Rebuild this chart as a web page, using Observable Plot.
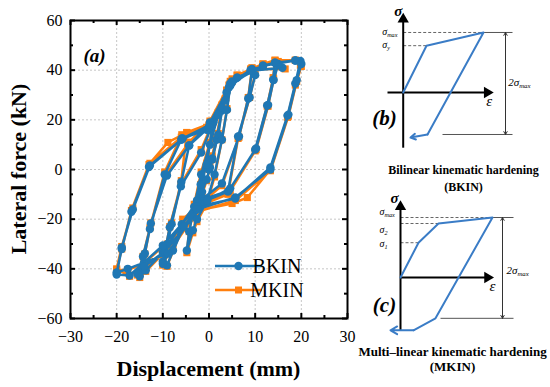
<!DOCTYPE html>
<html>
<head>
<meta charset="utf-8">
<script src="https://cdn.jsdelivr.net/npm/d3@7"></script>
<script src="https://cdn.jsdelivr.net/npm/@observablehq/plot@0.6"></script>
<style>
  html, body { margin: 0; padding: 0; background: #fff; }
  #wrap { position: relative; width: 550px; height: 387px; overflow: hidden; background: #fff; }
  #wrap > svg, #wrap > figure { position: absolute; margin: 0; }
  #wrap svg, #wrap svg text { font-family: "Liberation Serif", "Times New Roman", serif !important; }
</style>
</head>
<body>
<div id="wrap"></div>
<script>
// ---------- data: main hysteresis chart ----------
const xTicks = [-30, -20, -10, 0, 10, 20, 30];
const yTicks = [-60, -40, -20, 0, 20, 40, 60];
const xMinor = [-25, -15, -5, 5, 15, 25];
const yMinor = [-50, -30, -10, 10, 30, 50];
const xGrid = [-20, -10, 0, 10, 20];
const yGrid = [-40, -20, 0, 20, 40];
const xLabel = "Displacement (mm)";
const yLabel = "Lateral force (kN)";
const panelA = "(a)";
const seriesNames = ["BKIN", "MKIN"];
const seriesColors = ["#1f77b4", "#ff7f0e"];

// [displacement (mm), lateral force (kN)]
const bkin = [
[0,0],[0.2,0.8],[0.7,4.4],[1.6,12],[2.8,23.7],[2,14],[0.7,4],[-0.5,-4],[-1.5,-9],[-2.6,-12.5],[-1.8,-6],[-0.5,2],
[0.9,18.9],[2.8,25],[4.6,33.8],[3.9,24],[2.8,12],[1.2,-2],[-0.4,-12.5],[-2.6,-20],[-3.5,-24.5],[-4.8,-32.6],[-4.3,-25],[-3.2,-15],[-1.7,-2],[0.2,10],[2,22],[3.5,27.8],[5,35.5],
[6.1,37],[9.3,39.8],[8.5,28.6],[6.5,13.3],[2.8,-5.6],[-1.3,-11.7],[-5.9,-22],[-7.8,-32.6],[-10,-37],[-8.5,-23.3],[-6.1,-6.8],[-1.7,6.8],[0.9,18.9],[4.6,34.6],[9.3,40.5],[10,38],[8.8,29],[6.3,13.3],[4.1,-8.9],[-1.3,-13],[-5.5,-23],[-9.1,-38.6],[-10,-38],[-9,-30],[-8.1,-22],[-6,-5],[-4.3,9.7],[0,17],[3.8,31],[6.1,37],
[11.7,41.8],[14.3,43],[13.9,36.2],[12.6,25.8],[10,8],[4.3,-8.5],[-2.6,-12.9],[-10,-33.4],[-13.7,-40.6],[-15,-43],[-13.9,-33.8],[-12.6,-21.7],[-9.1,-2.4],[-4.3,9.7],[0.2,18.9],[4.6,33.8],[9.3,39.8],[15.9,41],[15,42.5],[14,36],[12.8,26],[10.2,8.5],[4.6,-7.6],[-0.4,-12.5],[-9.6,-33],[-14,-39],[-15.5,-42],[-14.3,-35],[-12.8,-24],[-9.6,-2],[-5.9,12.5],[-0.5,16],[4.3,33],[9,40],
[14.3,43],[18.7,43.9],[19.8,43.7],[18.7,34.6],[17,21.7],[13.3,0.8],[5.7,-11.7],[-2.6,-15],[-10,-30.6],[-17.2,-42.7],[-20,-42.3],[-18.9,-31.4],[-16.5,-16.1],[-12.8,1.6],[-5.7,12.5],[0.2,18],[5,35],[11.7,41.8],[18.7,43.9],[20,42.5],[19,36],[17.2,22.1],[13.3,0],[5.7,-11.3],[-2.6,-16],[-8.9,-33.8],[-17.6,-40],[-20,-41.5],[-18.9,-32],[-16.8,-17],[-13,1],[-6,12],[0,17]
];
const mkin = [
[0,0],[0.2,1.5],[0.7,5.5],[1.6,13],[2.8,24.5],[2,14.5],[0.7,4],[-0.5,-4.5],[-1.5,-10],[-2.6,-13.5],[-1.8,-6],[-0.5,2.5],
[0.9,19.5],[2.8,26],[4.6,34.5],[3.9,24.5],[2.8,12],[1.2,-3],[-0.4,-13.5],[-2.6,-21],[-3.5,-25.5],[-4.8,-33.5],[-4.3,-25],[-3.2,-14],[-1.7,-1],[0.2,11],[2,23],[3.5,28.5],[5,36.5],
[6.1,38],[9.3,40.5],[8.5,29],[6.5,13],[2.8,-6.5],[-1.3,-13],[-5.7,-20],[-7.8,-31],[-10,-38],[-8.5,-23],[-6.1,-6],[-1.7,8],[0.9,19.5],[4.6,35.5],[9.3,41],[10,38.5],[8.8,29],[6.3,12.5],[4.1,-10],[-1.3,-14],[-5.5,-22],[-9.1,-39],[-10,-38.5],[-9,-30],[-8.1,-21.5],[-6,-4.5],[-4.8,14.9],[0,18],[3.8,32],[6.1,38],
[11.7,42.5],[14.3,44],[13.9,37],[12.6,25.5],[10,7.5],[4.3,-9.5],[-2.6,-14],[-10,-34],[-13.7,-41],[-15,-43.5],[-13.9,-34],[-12.6,-21.5],[-9.1,-1.5],[-4.3,11],[0.2,19.5],[4.6,34.5],[9.3,40.5],[16.5,40.5],[15,43.5],[14,36.5],[12.8,25.5],[10.2,8],[4.6,-8.5],[-0.4,-13.5],[-9.6,-33.5],[-14,-39.5],[-15.5,-42.5],[-14.3,-35],[-12.8,-23.5],[-9.6,-1],[-5.9,14],[-0.5,17],[4.3,34],[9,40.5],
[14.3,44],[18.7,44],[19.8,42],[18.7,34],[17,21],[13.3,0],[8.3,-11.3],[5,-13.7],[-2.6,-16.5],[-10,-31],[-17.2,-43],[-20,-40],[-18.9,-31],[-16.5,-15.5],[-12.8,2.5],[-8.9,10.9],[-4.8,14.9],[0.2,18.5],[5,35.5],[11.7,42.5],[18.7,44],[20,41.5],[19,35.5],[17.2,21.5],[13.3,-0.5],[5.7,-12.5],[-2.6,-17],[-8.9,-34],[-17.6,-40.5],[-20,-40.5],[-18.9,-32],[-16.8,-16.5],[-13,2],[-6,13],[0,17.5]
];

// ---------- data: schematic (b) bilinear ----------
const bCurve = [[0,0],[2.33,0.78],[8.03,1.0],[2.43,-0.7]];
const bArrowEnd = [0.73,-0.75];
// [label, level, strain at level, label y]
const bLevels = [["σ_max", 1.0, 8.03, 1.01], ["σ_y", 0.78, 2.33, 0.8]];
const bTitle = ["Bilinear kinematic hardening", "(BKIN)"];
// ---------- data: schematic (c) multilinear ----------
const cCurve = [[0,0],[1.8,0.58],[3.8,0.9],[9.2,1.0],[3.5,-0.68],[1.3,-0.88]];
const cArrowEnd = [-1.0,-0.88];
const cLevels = [["σ_max", 1.0, 9.2, 1.09], ["σ_2", 0.9, 3.8, 0.8], ["σ_1", 0.58, 1.8, 0.56]];
const cTitle = ["Multi–linear kinematic hardening", "(MKIN)"];

const SERIF = "Liberation Serif, Times New Roman, serif";
const wrap = document.getElementById("wrap");

// ---------- main chart ----------
const W = 550, H = 387, mL = 70, mR = 203, mT = 20, mB = 69;
const iW = W - mL - mR, iH = H - mT - mB;
const gridStyle = {stroke: "#b8b8b8", strokeOpacity: 1, strokeWidth: 0.8, strokeDasharray: "2,2"};
const main = Plot.plot({
  width: W, height: H, marginLeft: mL, marginRight: mR, marginTop: mT, marginBottom: mB,
  style: {fontFamily: SERIF, fontSize: "16px", color: "#000", background: "transparent"},
  x: {domain: [-30, 30]},
  y: {domain: [-60, 60]},
  marks: [
    Plot.gridX(xGrid, gridStyle),
    Plot.gridY(yGrid, gridStyle),
    Plot.axisX({ticks: xTicks, tickSize: 0, tickPadding: 12, label: null, fontSize: 16}),
    Plot.axisY({ticks: yTicks, tickSize: 0, tickPadding: 8, label: null, fontSize: 16}),
    Plot.tickX(xTicks, {x: d => d, insetTop: iH - 5, strokeWidth: 2}),
    Plot.tickX(xTicks, {x: d => d, insetBottom: iH - 5, strokeWidth: 2}),
    Plot.tickX(xMinor, {x: d => d, insetTop: iH - 3, strokeWidth: 2}),
    Plot.tickX(xMinor, {x: d => d, insetBottom: iH - 3, strokeWidth: 2}),
    Plot.tickY(yTicks, {y: d => d, insetRight: iW - 5, strokeWidth: 2}),
    Plot.tickY(yTicks, {y: d => d, insetLeft: iW - 5, strokeWidth: 2}),
    Plot.tickY(yMinor, {y: d => d, insetRight: iW - 3, strokeWidth: 2}),
    Plot.tickY(yMinor, {y: d => d, insetLeft: iW - 3, strokeWidth: 2}),
    Plot.line(mkin, {x: d => d[0], y: d => d[1], stroke: seriesColors[1], strokeWidth: 2.5}),
    Plot.dot(mkin, {x: d => d[0], y: d => d[1], symbol: "square", r: 4, fill: seriesColors[1], stroke: "none"}),
    Plot.line(bkin, {x: d => d[0], y: d => d[1], stroke: seriesColors[0], strokeWidth: 2.5}),
    Plot.dot(bkin, {x: d => d[0], y: d => d[1], r: 4.2, fill: seriesColors[0], stroke: "none"}),
    Plot.frame({stroke: "#000", strokeWidth: 2}),
    Plot.text([panelA], {frameAnchor: "top-left", dx: 13, dy: 28, textAnchor: "start", fontSize: 19, fontWeight: "bold", fontStyle: "italic"})
  ]
});
main.style.left = "0px"; main.style.top = "0px";
wrap.appendChild(main);

{
  const svg = d3.select(main);
  svg.append("text").attr("transform", `translate(26,${mT + iH / 2}) rotate(-90)`)
    .attr("text-anchor", "middle").attr("font-size", 22).attr("font-weight", "bold").attr("fill", "#000").text(yLabel);
  svg.append("text").attr("x", mL + iW / 2).attr("y", 376)
    .attr("text-anchor", "middle").attr("font-size", 22).attr("font-weight", "bold").attr("fill", "#000").text(xLabel);
  const g = svg.append("g").attr("font-size", 20);
  const ys = [266, 290];
  seriesNames.forEach((name, i) => {
    const y = ys[i];
    g.append("line").attr("x1", 215).attr("x2", 262).attr("y1", y).attr("y2", y)
      .attr("stroke", seriesColors[i]).attr("stroke-width", 2.5);
    if (i === 0) g.append("circle").attr("cx", 238.5).attr("cy", y).attr("r", 4.2).attr("fill", seriesColors[i]);
    else g.append("rect").attr("x", 235).attr("y", y - 3.5).attr("width", 7).attr("height", 7).attr("fill", seriesColors[i]);
    g.append("text").attr("x", 277).attr("y", y + 7).attr("fill", "#000").text(name);
  });
}

// ---------- schematic helper ----------
const BLUE = "#3a7cc6";
function schematic({left, top, w, h, xDomain, yDomain, curve, arrowEnd, levels, sigTop, sigBot, epsLeft, epsRight, dimX, dimTop, dimBot, dimTickR, panel, panelX, panelY, title, titleX, titleY, titleSize, sigLabel, epsLabel, dimLabel, levelLabelX}) {
  const last = curve[curve.length - 1];
  const p = Plot.plot({
    width: w, height: h, margin: 0,
    style: {fontFamily: SERIF, color: "#000", background: "transparent", overflow: "visible"},
    x: {domain: xDomain, axis: null},
    y: {domain: yDomain, axis: null},
    marks: [
      Plot.link(levels, {x1: 0, y1: d => d[1], x2: d => d[2], y2: d => d[1], stroke: "#666", strokeWidth: 1, strokeDasharray: "3,2"}),
      Plot.link([dimTop, dimBot], {x1: d => d[0], x2: dimTickR, y1: d => d[1], y2: d => d[1], stroke: "#555", strokeWidth: 1}),
      Plot.arrow([dimTop[1], dimBot[1]], {x1: dimX, x2: dimX, y1: (dimTop[1] + dimBot[1]) / 2, y2: d => d, stroke: "#333", strokeWidth: 1, headLength: 5}),
      Plot.link([0], {x1: 0, x2: 0, y1: sigBot, y2: sigTop, stroke: "#000", strokeWidth: 2}),
      Plot.dot([0], {x: 0, y: sigTop, symbol: "triangle", r: 4.2, fill: "#000", stroke: "none"}),
      Plot.link([0], {x1: epsLeft, x2: epsRight, y1: 0, y2: 0, stroke: "#000", strokeWidth: 2}),
      Plot.dot([0], {x: epsRight, y: 0, symbol: "triangle", rotate: 90, r: 4.2, fill: "#000", stroke: "none"}),
      Plot.line(curve, {x: d => d[0], y: d => d[1], stroke: BLUE, strokeWidth: 2}),
      Plot.arrow([0], {x1: last[0], y1: last[1], x2: arrowEnd[0], y2: arrowEnd[1], stroke: BLUE, strokeWidth: 2, headLength: 7}),
      Plot.text(levels, {x: levelLabelX, y: d => d[3], text: d => d[0], textAnchor: "start", fontSize: 10, fontStyle: "italic"}),
      Plot.text([sigLabel], {x: sigLabel.x, y: sigLabel.y, text: d => d.t, fontSize: 15, fontStyle: "italic", fontWeight: "bold"}),
      Plot.text([epsLabel], {x: epsLabel.x, y: epsLabel.y, text: d => d.t, fontSize: 15, fontStyle: "italic"}),
      Plot.text([dimLabel], {x: dimLabel.x, y: dimLabel.y, text: d => d.t, fontSize: 11, fontStyle: "italic", textAnchor: "start"}),
      Plot.text([panel], {x: panelX, y: panelY, fontSize: 21, fontWeight: "bold", fontStyle: "italic"}),
      Plot.text([title[0]], {x: titleX, y: titleY[0], fontSize: titleSize, fontWeight: "bold", lineAnchor: "bottom"}),
      Plot.text([title[1]], {x: titleX, y: titleY[1], fontSize: titleSize, fontWeight: "bold", lineAnchor: "bottom"})
    ]
  });
  p.style.left = left + "px"; p.style.top = top + "px";
  d3.select(p).selectAll("text").each(function () {
    const t = this.textContent;
    if (!t.includes("_")) return;
    const [b, s] = t.split("_");
    const el = d3.select(this);
    el.selectAll("*").remove();
    el.text(null);
    el.append("tspan").text(b);
    el.append("tspan").attr("font-size", "0.62em").attr("dy", "0.35em").text(s);
  });
  wrap.appendChild(p);
}

schematic({
  left: 350, top: 0, w: 200, h: 200,
  xDomain: [-5.27, 14.73], yDomain: [-1.8, 1.533],
  curve: bCurve, arrowEnd: bArrowEnd, levels: bLevels,
  sigTop: 1.22, sigBot: -0.92, epsLeft: -1.57, epsRight: 8.4,
  dimX: 10.23, dimTop: [8.03, 1.0], dimBot: [3.93, -0.7], dimTickR: 10.93,
  panel: "(b)", panelX: -1.87, panelY: -0.43,
  title: bTitle, titleX: 6.03, titleY: [-1.36, -1.65], titleSize: 12,
  sigLabel: {t: "σ", x: -0.5, y: 1.36}, epsLabel: {t: "ε", x: 8.6, y: -0.15},
  dimLabel: {t: "2σ_max", x: 10.5, y: 0.17}, levelLabelX: -2.1
});

schematic({
  left: 350, top: 190, w: 200, h: 197,
  xDomain: [-5, 15], yDomain: [-1.833, 1.45],
  curve: cCurve, arrowEnd: cArrowEnd, levels: cLevels,
  sigTop: 1.18, sigBot: -0.88, epsLeft: 0, epsRight: 8.7,
  dimX: 10.2, dimTop: [9.2, 1.0], dimBot: [4.0, -0.68], dimTickR: 11.3,
  panel: "(c)", panelX: -1.6, panelY: -0.47,
  title: cTitle, titleX: 5.2, titleY: [-1.31, -1.56], titleSize: 13,
  sigLabel: {t: "σ", x: -0.6, y: 1.33}, epsLabel: {t: "ε", x: 9.2, y: -0.14},
  dimLabel: {t: "2σ_max", x: 10.6, y: 0.12}, levelLabelX: -2.1
});
</script>
</body>
</html>
